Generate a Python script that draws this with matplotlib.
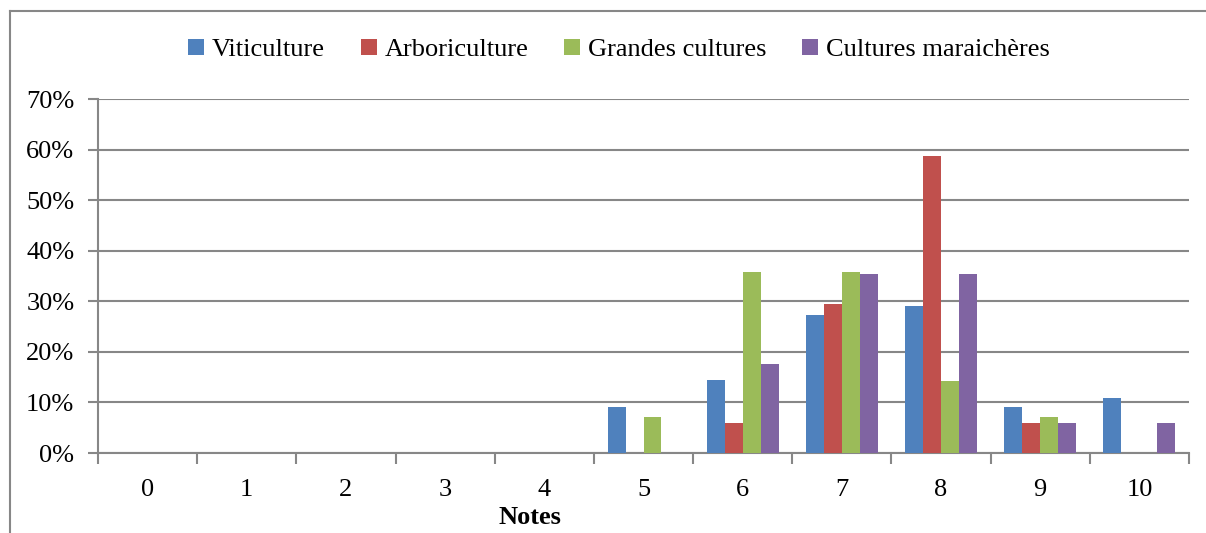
import matplotlib
matplotlib.use("Agg")
import matplotlib.pyplot as plt
from matplotlib.lines import Line2D
from matplotlib.patches import Patch
import numpy as np

plt.rcParams['font.family'] = ['Liberation Serif', 'DejaVu Serif']

notes = ["0", "1", "2", "3", "4", "5", "6", "7", "8", "9", "10"]
viticulture = [0, 0, 0, 0, 0, 0.091, 0.145, 0.273, 0.291, 0.091, 0.109]
arboriculture = [0, 0, 0, 0, 0, 0, 0.059, 0.294, 0.588, 0.059, 0]
grandes_cultures = [0, 0, 0, 0, 0, 0.071, 0.357, 0.357, 0.143, 0.071, 0]
cultures_maraicheres = [0, 0, 0, 0, 0, 0, 0.176, 0.353, 0.353, 0.059, 0.059]
series_names = ["Viticulture", "Arboriculture", "Grandes cultures", "Cultures maraichères"]
colors = ["#4F81BD", "#C0504D", "#9BBB59", "#8064A2"]
yticks = [0, 0.1, 0.2, 0.3, 0.4, 0.5, 0.6, 0.7]

W, H = 1206, 533
fig = plt.figure(figsize=(W / 100, H / 100), dpi=100)
ax = fig.add_axes([98 / W, 1 - 453 / H, (1189 - 98) / W, (453 - 99) / H])

grid_c = "#878787"
fs = 19

# outer chart border (left and top visible)
fig.add_artist(Line2D([10 / W, 10 / W], [0, 1 - 11 / H], color=grid_c, lw=1.5, transform=fig.transFigure))
fig.add_artist(Line2D([10 / W, 1.0], [1 - 11 / H, 1 - 11 / H], color=grid_c, lw=1.5, transform=fig.transFigure))

x = np.arange(len(notes))
w = 0.1814
data = [viticulture, arboriculture, grandes_cultures, cultures_maraicheres]
for i, (vals, c, name) in enumerate(zip(data, colors, series_names)):
    ax.bar(x + (i - 1.5) * w, vals, width=w, color=c, edgecolor="none", label=name, zorder=3)

ax.set_xlim(-0.5, len(notes) - 0.5)
ax.set_ylim(0, 0.7)
ax.set_yticks(yticks)
ax.set_yticklabels([f"{int(round(v * 100))}%" for v in yticks], fontsize=fs)
ax.yaxis.grid(True, color=grid_c, lw=1.5, zorder=0)
ax.set_axisbelow(True)

ax.set_xticks(np.arange(-0.5, len(notes), 1.0))
ax.set_xticklabels([])
ax.set_xticks(x, minor=True)
ax.set_xticklabels(notes, minor=True, fontsize=fs)
ax.tick_params(axis="x", which="major", length=8, width=1.5, color=grid_c)
ax.tick_params(axis="x", which="minor", length=0, pad=19)
ax.tick_params(axis="y", length=7, width=1.5, color=grid_c, pad=10)

for s in ["top", "right"]:
    ax.spines[s].set_visible(False)
for s in ["left", "bottom"]:
    ax.spines[s].set_color(grid_c)
    ax.spines[s].set_linewidth(1.5)

fig.text(530 / W, 1 - 517 / H, "Notes", fontsize=fs, fontweight="bold", ha="center", va="center")

handles = [Patch(facecolor=c, edgecolor="none") for c in colors]
fig.legend(handles, series_names, loc="center", bbox_to_anchor=(619 / W, 1 - 50 / H), ncol=4,
           frameon=False, fontsize=fs, handlelength=0.6, handleheight=0.6,
           handletextpad=0.3, columnspacing=1.35)

fig.savefig("out.png", dpi=100)
